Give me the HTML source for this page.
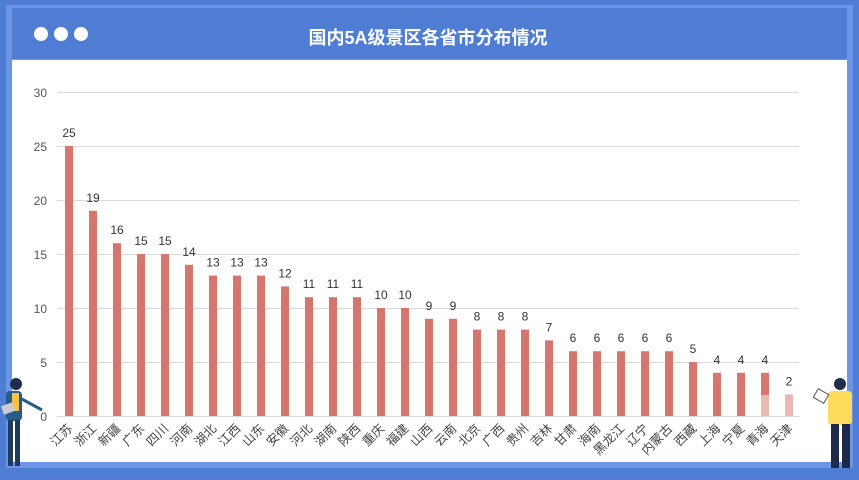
<!DOCTYPE html>
<html><head><meta charset="utf-8"><style>
body{margin:0;width:859px;height:475px;overflow:hidden;background:#4f7dd3;font-family:"Liberation Sans","Noto Sans CJK SC",sans-serif}
</style></head><body>
<svg width="859" height="475" xmlns="http://www.w3.org/2000/svg" font-family="Liberation Sans, Noto Sans CJK SC, sans-serif">
<rect x="0" y="0" width="859" height="475" fill="#4f7dd3"/>
<rect x="6" y="5" width="847" height="463" fill="#6b96e8"/>
<rect x="12" y="8" width="835" height="51" fill="#4f7dd3"/>
<rect x="12" y="60" width="835" height="402" fill="#fff"/>
<circle cx="41" cy="34" r="7" fill="#fff"/><circle cx="61" cy="34" r="7" fill="#fff"/><circle cx="81" cy="34" r="7" fill="#fff"/>
<text x="428" y="44" text-anchor="middle" font-size="18" font-weight="bold" fill="#fff">国内5A级景区各省市分布情况</text>
<g stroke="#d9d9d9" stroke-width="1">
<line x1="57" x2="799" y1="92.5" y2="92.5"/><line x1="57" x2="799" y1="146.5" y2="146.5"/><line x1="57" x2="799" y1="200.5" y2="200.5"/><line x1="57" x2="799" y1="254.5" y2="254.5"/><line x1="57" x2="799" y1="308.5" y2="308.5"/><line x1="57" x2="799" y1="362.5" y2="362.5"/><line x1="57" x2="799" y1="416.5" y2="416.5"/>
</g>
<g font-size="12" fill="#555" text-anchor="end">
<text x="47" y="97">30</text><text x="47" y="151">25</text><text x="47" y="205">20</text><text x="47" y="259">15</text><text x="47" y="313">10</text><text x="47" y="367">5</text><text x="47" y="421">0</text>
</g>
<g id="bars"></g>
</svg>
<script>
var d=[["江苏",25],["浙江",19],["新疆",16],["广东",15],["四川",15],["河南",14],["湖北",13],["江西",13],["山东",13],["安徽",12],["河北",11],["湖南",11],["陕西",11],["重庆",10],["福建",10],["山西",9],["云南",9],["北京",8],["广西",8],["贵州",8],["吉林",7],["甘肃",6],["海南",6],["黑龙江",6],["辽宁",6],["内蒙古",6],["西藏",5],["上海",4],["宁夏",4],["青海",4],["天津",2]];
var g=document.getElementById("bars"),s="";
d.forEach(function(e,i){var cx=69+24*i,h=e[1]*10.8,y=416-h,col="#d4766f";
if(i==30)col="#e8b9b5";
s+='<rect x="'+(cx-4)+'" y="'+y+'" width="8" height="'+h+'" fill="'+col+'"/>';
if(i==29)s+='<rect x="'+(cx-4)+'" y="395" width="8" height="21" fill="#e8b9b5"/>';
s+='<text x="'+cx+'" y="'+(y-9)+'" font-size="12" fill="#333" text-anchor="middle">'+e[1]+'</text>';
s+='<text transform="translate('+(cx-2)+',423) rotate(-45)" font-size="12.5" fill="#444" text-anchor="end" dominant-baseline="hanging">'+e[0]+'</text>';});
s+='<g><circle cx="16" cy="384" r="6" fill="#1f2d4a"/><rect x="6" y="391" width="16" height="30" rx="4" fill="#2a5c8a"/><rect x="12" y="393" width="7" height="18" fill="#f5c542"/><rect x="8" y="420" width="5" height="46" fill="#1f3a5a"/><rect x="15" y="420" width="5" height="46" fill="#1f3a5a"/><line x1="20" y1="398" x2="42" y2="410" stroke="#2a5c8a" stroke-width="3"/><rect x="2" y="404" width="12" height="9" fill="#ccc" transform="rotate(-20 8 408)"/></g>';
s+='<g><circle cx="840" cy="384" r="6" fill="#1f2d4a"/><rect x="828" y="391" width="24" height="34" rx="4" fill="#fedb5c"/><rect x="831" y="424" width="8" height="44" fill="#1f2a4a"/><rect x="842" y="424" width="8" height="44" fill="#1f2a4a"/><rect x="815" y="391" width="12" height="10" fill="#fff" stroke="#555" transform="rotate(30 821 396)"/></g>';
g.innerHTML=s;
</script>
</body></html>
